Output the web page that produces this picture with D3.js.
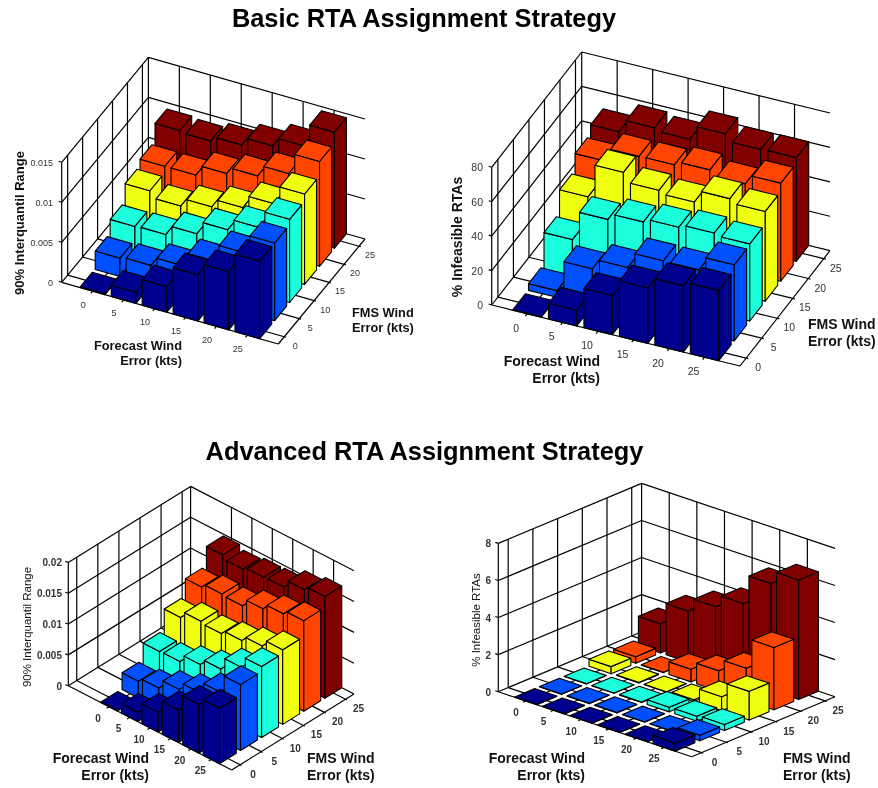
<!DOCTYPE html>
<html>
<head>
<meta charset="utf-8">
<script src="https://cdnjs.cloudflare.com/ajax/libs/d3/7.8.5/d3.min.js"></script>
<style>
    html, body { margin: 0; padding: 0; background: #fff; }
    svg { display: block; filter: blur(0.35px); }
    text { font-family: "Liberation Sans", Arial, sans-serif; }
</style>
</head>
<body>
<div id="container"></div>
<script>
const forecastTicks = [0, 5, 10, 15, 20, 25];
const fmsTicks = [0, 5, 10, 15, 20, 25];
const rowColors = ['#00008f', '#0050ff', '#1cffdd', '#f0ff10', '#ff4500', '#800000'];

// one row per FMS error, one value per forecast error
const basicIqr = [
    [0.0001, 0.0014, 0.0032, 0.0058, 0.0073, 0.0097],
    [0.0023, 0.0025, 0.0036, 0.0053, 0.0074, 0.0097],
    [0.004, 0.0041, 0.0053, 0.0069, 0.0083, 0.0104],
    [0.0062, 0.0054, 0.0064, 0.0074, 0.009, 0.0113],
    [0.007, 0.007, 0.0083, 0.0091, 0.0105, 0.0131],
    [0.0092, 0.009, 0.0096, 0.0106, 0.0117, 0.0145]
];
const basicInfeasible = [
    [0.3, 9.1, 22.7, 32.2, 38.6, 40.9],
    [3.9, 21.7, 27.5, 36.4, 36.2, 44.2],
    [22, 38.8, 42.4, 44.4, 46.1, 44.8],
    [35.3, 54.6, 49.2, 47.5, 54.5, 52.1],
    [44.8, 52.3, 52.5, 54.6, 51.5, 57],
    [50, 57.4, 55.8, 64, 60, 60.3]
];
const advancedIqr = [
    [0.0001, 0.0015, 0.0032, 0.0053, 0.0079, 0.009],
    [0.0027, 0.0033, 0.0048, 0.006, 0.0078, 0.0107],
    [0.0054, 0.0055, 0.0067, 0.0077, 0.0097, 0.0115],
    [0.0088, 0.0099, 0.0096, 0.0102, 0.011, 0.0121],
    [0.0116, 0.0122, 0.012, 0.0132, 0.0141, 0.0147],
    [0.0147, 0.0141, 0.0145, 0.0146, 0.0159, 0.0165]
];
const advancedInfeasible = [
    [0.02, 0.02, 0.02, 0.02, 0.02, 0.43],
    [0.02, 0.02, 0.02, 0.02, 0.02, 0.3],
    [0.02, 0.02, 0.03, 0.25, 0.27, 0.32],
    [0.38, 0.03, 0.03, 0.1, 0.76, 1.55],
    [0.36, 0.02, 0.68, 1.1, 1.74, 3.36],
    [1.58, 2.77, 3.5, 4.17, 5.75, 6.44]
];
const zTicksIqr15 = [0, 0.005, 0.01, 0.015];
const zTicksIqr20 = [0, 0.005, 0.01, 0.015, 0.02];
const zTicksInf80 = [0, 20, 40, 60, 80];
const zTicksInf8 = [0, 2, 4, 6, 8];

const svg = d3.select("#container")
    .append('svg')
    .attr('width', 878)
    .attr('height', 788);

svg.append('text').attr('x', 424).attr('y', 27).attr('text-anchor', 'middle')
    .attr('font-size', 25.4).attr('font-weight', 'bold').text('Basic RTA Assignment Strategy');
svg.append('text').attr('x', 424.5).attr('y', 460).attr('text-anchor', 'middle')
    .attr('font-size', 25.4).attr('font-weight', 'bold').text('Advanced RTA Assignment Strategy');

const drawPanel = (p) => {
    const g = svg.append('g');
    const uScale = d3.scaleLinear().domain(p.uLim).range([0, 1]);
    const vScale = d3.scaleLinear().domain([0.6, 6.4]).range([0, 1]);
    const zScale = d3.scaleLinear().domain([0, p.zTicks[p.zTicks.length - 1]]).range([0, p.zPx]);

    // 3d to screen, the view is a plain parallel projection
    const proj = (u, v, z) => [
        p.L[0] + uScale(u) * (p.F[0] - p.L[0]) + vScale(v) * (p.R[0] - p.F[0]),
        p.L[1] + uScale(u) * (p.F[1] - p.L[1]) + vScale(v) * (p.R[1] - p.F[1]) - zScale(z)
    ];
    const line = (a, b) => g.append('line')
        .attr('x1', a[0]).attr('y1', a[1]).attr('x2', b[0]).attr('y2', b[1])
        .attr('stroke', '#000').attr('stroke-width', 1.2);

    const [u0, u1] = p.uLim;
    const v0 = 0.6, v1 = 6.4;
    const zTop = p.zTicks[p.zTicks.length - 1];
    const positions = d3.range(1, 7);

    // walls and floor grid
    p.zTicks.forEach((t) => {
        line(proj(u0, v0, t), proj(u0, v1, t));
        line(proj(u0, v1, t), proj(u1, v1, t));
    });
    positions.forEach((pos) => {
        line(proj(u0, pos, 0), proj(u0, pos, zTop));
        line(proj(pos, v1, 0), proj(pos, v1, zTop));
        line(proj(u0, pos, 0), proj(u1, pos, 0));
        line(proj(pos, v0, 0), proj(pos, v1, 0));
    });
    line(proj(u0, v0, 0), proj(u0, v0, zTop));
    line(proj(u0, v1, 0), proj(u0, v1, zTop));
    line(proj(u0, v0, 0), proj(u1, v0, 0));
    line(proj(u1, v0, 0), proj(u1, v1, 0));

    // tick marks and labels
    p.zTicks.forEach((t) => {
        const a = proj(u0, v0, t);
        line(a, [a[0] - 3, a[1] - 1]);
        g.append('text').attr('x', p.zLabelX).attr('y', a[1] + 4)
            .attr('text-anchor', 'end').attr('font-size', p.tickSize)
            .attr('font-weight', p.tickWeight).attr('fill', '#333')
            .text(t);
    });
    forecastTicks.forEach((t, i) => {
        const a = proj(i + 1, v0, 0);
        const dx = (p.F[0] - p.R[0]) / 5.8 * 0.12, dy = (p.F[1] - p.R[1]) / 5.8 * 0.12;
        line(a, [a[0] + dx, a[1] + dy]);
        g.append('text').attr('x', a[0] + p.uLabel[0]).attr('y', a[1] + p.uLabel[1] + 4)
            .attr('text-anchor', 'middle').attr('font-size', p.tickSize)
            .attr('font-weight', p.tickWeight).attr('fill', '#333')
            .text(t);
    });
    fmsTicks.forEach((t, j) => {
        const a = proj(u1, j + 1, 0);
        const dx = (p.F[0] - p.L[0]) / 7 * 0.06, dy = (p.F[1] - p.L[1]) / 7 * 0.06;
        line(a, [a[0] + dx, a[1] + dy]);
        g.append('text').attr('x', a[0] + p.vLabel[0]).attr('y', a[1] + p.vLabel[1] + 4)
            .attr('text-anchor', 'middle').attr('font-size', p.tickSize)
            .attr('font-weight', p.tickWeight).attr('fill', '#333')
            .text(t);
    });

    // bars, back row first and left to right so nearer ones paint over
    const faces = g.append('g');
    const poly = (pts, color) => faces.append('polygon')
        .attr('points', pts.map((q) => q.join(',')).join(' '))
        .attr('fill', color)
        .attr('stroke', '#000')
        .attr('stroke-width', 1.1)
        .attr('stroke-linejoin', 'round');
    d3.range(5, -1, -1).forEach((j) => {
        p.values[j].forEach((val, i) => {
            const a0 = i + 0.6, a1 = i + 1.4, b0 = j + 0.6, b1 = j + 1.4;
            const color = rowColors[j];
            poly([proj(a0, b0, 0), proj(a1, b0, 0), proj(a1, b0, val), proj(a0, b0, val)], color);
            poly([proj(a1, b0, 0), proj(a1, b1, 0), proj(a1, b1, val), proj(a1, b0, val)], color);
            poly([proj(a0, b0, val), proj(a1, b0, val), proj(a1, b1, val), proj(a0, b1, val)], color);
        });
    });

    // axis titles
    const label = (x, y, anchor, size, txt) => g.append('text').attr('x', x).attr('y', y)
        .attr('text-anchor', anchor).attr('font-size', size).attr('font-weight', 'bold')
        .attr('fill', '#111').text(txt);
    label(p.fcX, p.labelY1[0], 'end', p.labelSize, 'Forecast Wind');
    label(p.fcX, p.labelY1[1], 'end', p.labelSize, 'Error (kts)');
    label(p.fmsX, p.labelY2[0], 'start', p.labelSize, 'FMS Wind');
    label(p.fmsX, p.labelY2[1], 'start', p.labelSize, 'Error (kts)');
    g.append('text')
        .attr('transform', `translate(${p.zTitle[0]},${p.zTitle[1]}) rotate(-90)`)
        .attr('text-anchor', 'middle').attr('font-size', p.zTitleSize)
        .attr('font-weight', p.zTitleWeight).attr('fill', '#111')
        .text(p.zName);
};

drawPanel({
    values: basicIqr, zTicks: zTicksIqr15, zName: '90% Interquantil Range',
    L: [61.7, 282.3], F: [278.3, 344], R: [365, 239], zPx: 120, uLim: [0, 7],
    zLabelX: 53, tickSize: 9, tickWeight: 'normal', uLabel: [-9.5, 12.5], vLabel: [11, 8],
    fcX: 182, labelY1: [350, 365], fmsX: 352, labelY2: [317, 332], labelSize: 12.8,
    zTitle: [24, 223], zTitleSize: 13, zTitleWeight: 'bold'
});
drawPanel({
    values: basicInfeasible, zTicks: zTicksInf80, zName: '% Infeasible RTAs',
    L: [491.7, 305], F: [740, 366], R: [830, 250.7], zPx: 137.7, uLim: [0, 7],
    zLabelX: 483, tickSize: 10.5, tickWeight: 'normal', uLabel: [-11, 14], vLabel: [12, 9],
    fcX: 600, labelY1: [366, 383], fmsX: 808, labelY2: [329, 346], labelSize: 14,
    zTitle: [462, 237], zTitleSize: 14, zTitleWeight: 'bold'
});
drawPanel({
    values: advancedIqr, zTicks: zTicksIqr20, zName: '90% Interquantil Range',
    L: [68.3, 685.7], F: [231.7, 770], R: [354, 694], zPx: 123.3, uLim: [-1, 7],
    zLabelX: 62, tickSize: 10, tickWeight: 'bold', uLabel: [-11, 11], vLabel: [13, 9],
    fcX: 149, labelY1: [763, 780], fmsX: 307, labelY2: [763, 780], labelSize: 14,
    zTitle: [31, 627], zTitleSize: 11.5, zTitleWeight: 'normal'
});
drawPanel({
    values: advancedInfeasible, zTicks: zTicksInf8, zName: '% Infeasible RTAs',
    L: [498.3, 691.7], F: [691.7, 756.7], R: [835, 696.7], zPx: 148.3, uLim: [0, 7],
    zLabelX: 491, tickSize: 10, tickWeight: 'bold', uLabel: [-10, 11], vLabel: [13, 9],
    fcX: 585, labelY1: [763, 780], fmsX: 783, labelY2: [763, 780], labelSize: 14,
    zTitle: [480, 620], zTitleSize: 11.5, zTitleWeight: 'normal'
});
</script>
</body>
</html>
